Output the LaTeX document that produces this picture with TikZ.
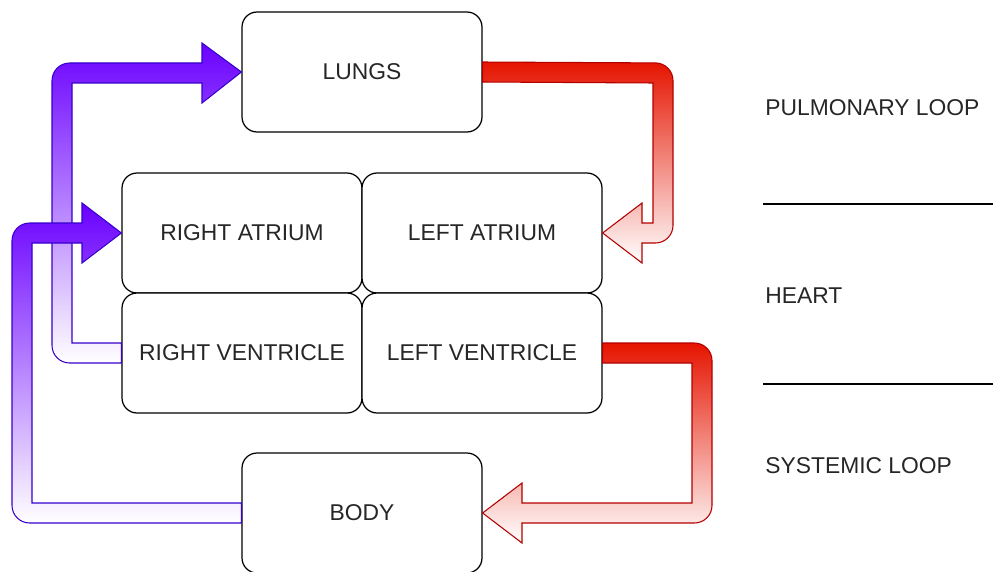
\documentclass[tikz,border=0pt]{standalone}
\usepackage{fontspec}
\setmainfont{Liberation Sans}
\usepackage{tikz}
\usetikzlibrary{positioning,calc}

\definecolor{veinblue}{HTML}{6A00FF}
\definecolor{veinline}{HTML}{3700CC}
\definecolor{arteryred}{HTML}{E51400}
\definecolor{arteryline}{HTML}{B20000}

\begin{document}
\begin{tikzpicture}[x=0.02cm, y=-0.02cm,
    every node/.style={align=center, font=\fontsize{13pt}{15pt}\selectfont, text=black!85},
    organ/.style={draw, rectangle, rounded corners=0.3cm, fill=white, line width=0.7pt, minimum width=4.8cm, minimum height=2.4cm},
    blueflow/.style={draw=veinline, line width=0.6pt, top color=veinblue, bottom color=white},
    redflow/.style={draw=arteryline, line width=0.6pt, top color=arteryred, bottom color=white},
    looplabel/.style={anchor=west, inner sep=0pt}]
    \useasboundingbox (0,0) rectangle (993,571);

    % Organs and heart chambers
    \node[organ] (lungs) at (362,72) {LUNGS};
    \node[organ] (ra) at (242,233) {RIGHT ATRIUM};
    \node[organ] (la) at (482,233) {LEFT ATRIUM};
    \node[organ] (rv) at (242,353) {RIGHT VENTRICLE};
    \node[organ] (lv) at (482,353) {LEFT VENTRICLE};
    \node[organ] (body) at (362,513) {BODY};

    % Blood flow arrows, wide shafts with gradient fill
    \draw[blueflow] ($(rv.west)+(0,-10)$) -- (72,343) -- (72,83) -- (202,83) -- (202,103) -- (lungs.west) -- (202,43) -- (202,63) [rounded corners=10pt] -- (52,63) -- (52,363) [sharp corners] -- ($(rv.west)+(0,10)$) -- cycle;
    \draw[blueflow] ($(body.west)+(0,-10)$) -- (32,503) -- (32,243) -- (82,243) -- (82,263) -- (ra.west) -- (82,203) -- (82,223) [rounded corners=10pt] -- (12,223) -- (12,523) [sharp corners] -- ($(body.west)+(0,10)$) -- cycle;
    \draw[redflow] ($(lungs.east)+(0,10)$) -- (653,83) -- (653,223) -- (642,223) -- (642,203) -- (la.east) -- (642,263) -- (642,243) [rounded corners=10pt] -- (673,243) -- (673,63) [sharp corners] -- ($(lungs.east)+(0,-10)$) -- cycle;
    \draw[redflow] ($(lv.east)+(0,10)$) -- (692,363) -- (692,503) -- (522,503) -- (522,483) -- (body.east) -- (522,543) -- (522,523) [rounded corners=10pt] -- (712,523) -- (712,343) [sharp corners] -- ($(lv.east)+(0,-10)$) -- cycle;

    % Loop labels and separators
    \node[looplabel] (pulm) at (765,108) {PULMONARY LOOP};
    \node[looplabel] (heart) at (765,296) {HEART};
    \node[looplabel] (syst) at (765,466) {SYSTEMIC LOOP};
    \draw[line width=0.8pt] (763,204) -- (993,204);
    \draw[line width=0.8pt] (763,384) -- (993,384);
\end{tikzpicture}
\end{document}
